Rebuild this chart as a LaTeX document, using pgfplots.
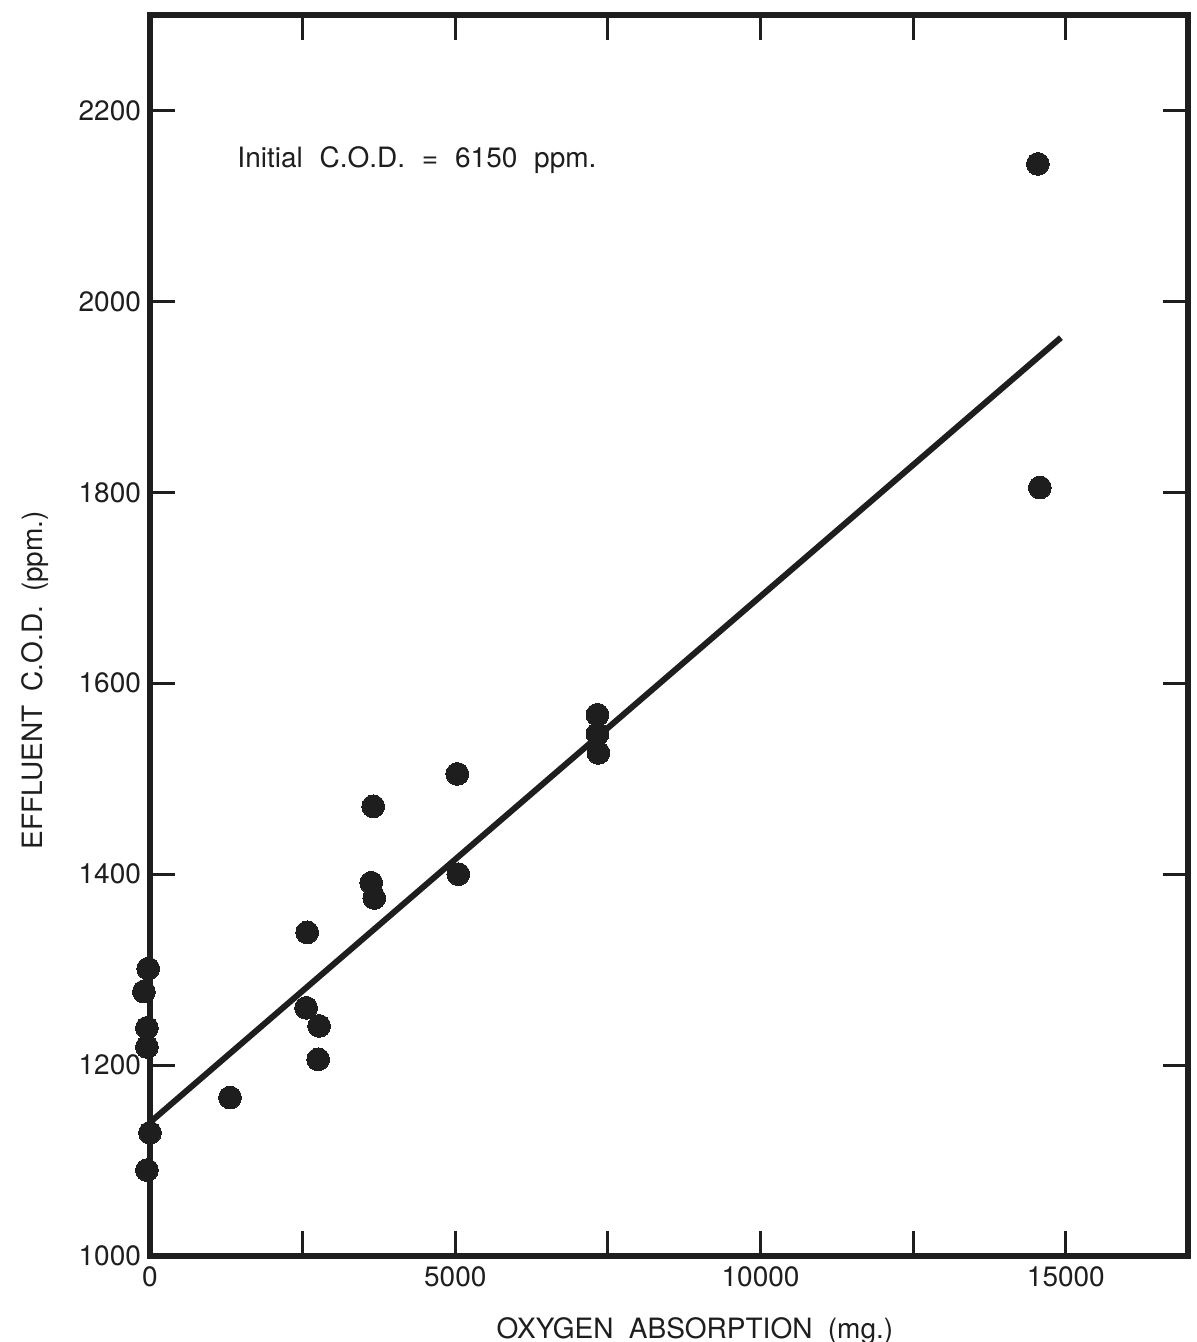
\documentclass[border=0pt]{standalone}
\usepackage{fontspec}
\setmainfont{TeX Gyre Heros}
\usepackage{pgfplots}
\pgfplotsset{compat=1.18}
\definecolor{ink}{HTML}{1E1E1E}
\begin{document}
\begin{tikzpicture}
\useasboundingbox (-75pt,-43pt) rectangle (523pt,628pt);
\begin{axis}[
  at={(0,0)}, anchor=south west,
  scale only axis, width=519pt, height=620.5pt,
  xmin=0, xmax=17000, ymin=1000, ymax=2300,
  clip=false,
  scaled x ticks=false, scaled y ticks=false,
  axis line style={line width=3pt, ink},
  tick align=inside,
  major tick length=12.5pt,
  tick style={line width=1.5pt, ink},
  xtick={0,2500,5000,7500,10000,12500,15000},
  xticklabels={0,,5000,,10000,,15000},
  ytick={1000,1200,1400,1600,1800,2000,2200},
  yticklabels={1000,1200,1400,1600,1800,2000,2200},
  /pgf/number format/assume math mode=true,
  ticklabel style={font=\fontsize{14}{16}\selectfont, text=ink},
  xticklabel style={yshift=-2pt},
  yticklabel style={xshift=-1pt},
  xlabel={OXYGEN\hspace{0.55em}ABSORPTION\hspace{0.55em}(mg.)},
  xlabel style={at={(axis description cs:0.525,0)}, anchor=base, yshift=-41pt, font=\fontsize{14}{16}\selectfont, text=ink},
  ylabel={EFFLUENT\hspace{0.5em}C.O.D.\hspace{0.5em}(ppm.)},
  ylabel style={at={(axis description cs:-0.104,0.464)}, anchor=base, rotate=0, font=\fontsize{14}{16}\selectfont, text=ink},
]
\addplot[only marks, mark=*, mark size=5.7pt, mark options={fill=ink, draw=ink, line width=0pt}] coordinates {
  (14541,2144) (14574,1805)
  (7328,1567) (7328,1547) (7344,1527)
  (5033,1505) (5049,1400)
  (3656,1471) (3623,1391) (3672,1375)
  (2574,1339) (2557,1260) (2770,1241) (2754,1206)
  (1311,1166)
  (-30,1301) (-100,1277) (-50,1239) (-50,1219) (0,1129) (-50,1090)
};
\addplot[line width=3pt, ink] coordinates {(0,1140) (14918,1962)};
\node[anchor=base west, inner sep=0pt, font=\fontsize{14}{16}\selectfont, text=ink] at (axis cs:1426,2140)
  {Initial\hspace{0.6em}C.O.D.\hspace{0.6em}=\hspace{0.6em}6150\hspace{0.6em}ppm.};
\end{axis}
\end{tikzpicture}
\end{document}
